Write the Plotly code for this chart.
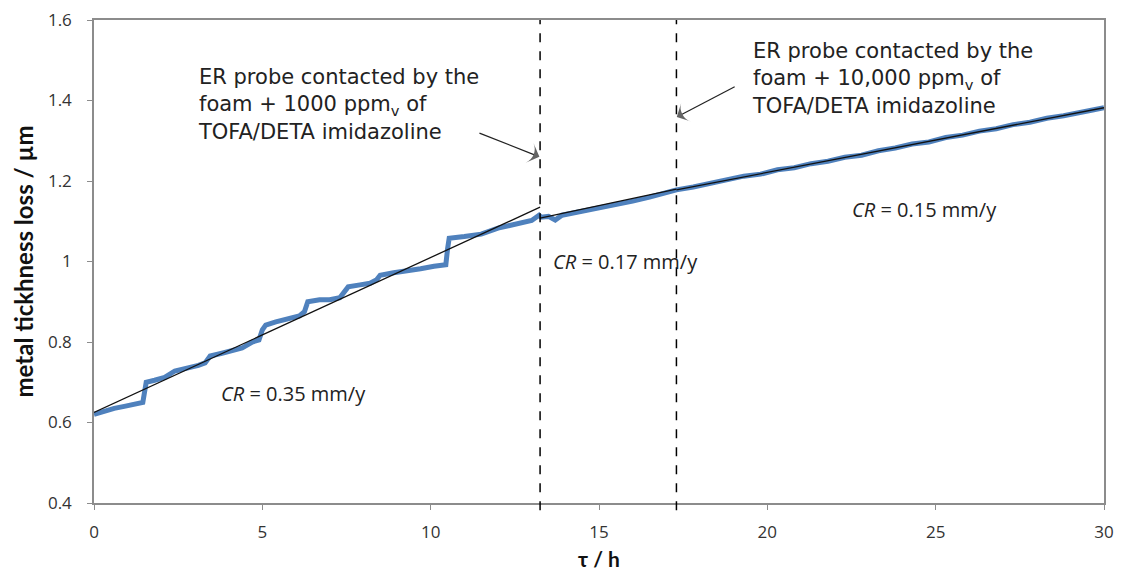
import plotly.graph_objects as go

# Measured metal thickness loss (blue trace)
tau_h = [0, 0.3, 0.6, 0.9, 1.2, 1.45, 1.5, 1.55, 1.8, 2.1, 2.4, 2.8, 3.1, 3.3, 3.45,
         3.8, 4.1, 4.4, 4.7, 4.9, 5.0, 5.1, 5.4, 5.8, 6.1, 6.25, 6.35, 6.7, 7.0, 7.3,
         7.45, 7.55, 7.9, 8.2, 8.4, 8.5, 8.9, 9.3, 9.7, 10.1, 10.45, 10.5, 10.55, 11.0,
         11.5, 12.0, 12.5, 13.0, 13.22, 13.28, 13.5, 13.7, 13.9, 14.2, 14.6, 15.0, 15.5,
         16.0, 16.5, 17.0, 17.3, 17.8, 18.3, 18.8, 19.3, 19.8, 20.3, 20.8, 21.3, 21.8,
         22.3, 22.8, 23.3, 23.8, 24.3, 24.8, 25.3, 25.8, 26.3, 26.8, 27.3, 27.8, 28.3,
         28.8, 29.3, 29.7, 30.0]
loss_um = [0.620, 0.628, 0.635, 0.640, 0.645, 0.650, 0.675, 0.700, 0.705, 0.712, 0.728,
           0.735, 0.742, 0.748, 0.765, 0.772, 0.778, 0.785, 0.800, 0.805, 0.830, 0.842,
           0.850, 0.858, 0.865, 0.875, 0.900, 0.905, 0.905, 0.910, 0.925, 0.937, 0.942,
           0.946, 0.955, 0.966, 0.972, 0.976, 0.982, 0.988, 0.992, 1.030, 1.058, 1.062,
           1.068, 1.083, 1.092, 1.102, 1.115, 1.110, 1.112, 1.103, 1.115, 1.120, 1.126,
           1.133, 1.140, 1.150, 1.160, 1.172, 1.178, 1.185, 1.194, 1.200, 1.212, 1.217,
           1.228, 1.233, 1.243, 1.249, 1.259, 1.264, 1.275, 1.282, 1.292, 1.297, 1.308,
           1.314, 1.324, 1.330, 1.340, 1.346, 1.356, 1.362, 1.372, 1.377, 1.382]

# Linear fits (black lines)
fit1_tau = [0, 13.25]
fit1_loss = [0.625, 1.135]
fit2_tau = [13.25, 17.3]
fit2_loss = [1.108, 1.180]
fit3_tau = [17.3, 30]
fit3_loss = [1.178, 1.382]

# Inhibitor injection times
event_times = [13.25, 17.3]

cr_labels = ["<i>CR</i> = 0.35 mm/y", "<i>CR</i> = 0.17 mm/y", "<i>CR</i> = 0.15 mm/y"]
cr_pos_tau = [5.92, 15.79, 24.68]
cr_pos_loss = [0.671, 0.999, 1.128]

note_texts = ["ER probe contacted by the<br>foam + 1000 ppm<sub>v</sub> of<br>TOFA/DETA imidazoline",
              "ER probe contacted by the<br>foam + 10,000 ppm<sub>v</sub> of<br>TOFA/DETA imidazoline"]
note_tau = [3.03, 19.48]
note_loss = [1.390, 1.455]
arrow_head_tau = [13.23, 17.31]
arrow_head_loss = [1.260, 1.359]
arrow_tail_tau = [11.45, 19.03]
arrow_tail_loss = [1.319, 1.434]

x_ticks = [0, 5, 10, 15, 20, 25, 30]
y_ticks = [0.4, 0.6, 0.8, 1.0, 1.2, 1.4, 1.6]
y_tick_text = ["0.4", "0.6", "0.8", "1", "1.2", "1.4", "1.6"]

fig = go.Figure()
fig.add_trace(go.Scatter(x=tau_h, y=loss_um, mode="lines",
                         line=dict(color="#4F81BD", width=5), showlegend=False))
for fx, fy in [(fit1_tau, fit1_loss), (fit2_tau, fit2_loss), (fit3_tau, fit3_loss)]:
    fig.add_trace(go.Scatter(x=fx, y=fy, mode="lines",
                             line=dict(color="#111111", width=1.3), showlegend=False))

for t in event_times:
    fig.add_shape(type="line", xref="x", yref="paper", x0=t, x1=t, y0=-0.015, y1=1,
                  line=dict(color="black", width=1.5, dash="dash"))

for txt, xx, yy in zip(cr_labels, cr_pos_tau, cr_pos_loss):
    fig.add_annotation(x=xx, y=yy, text=txt, showarrow=False,
                       font=dict(family="Open Sans", size=20, color="#222"))

for txt, xx, yy in zip(note_texts, note_tau, note_loss):
    fig.add_annotation(x=xx, y=yy, text=txt, showarrow=False,
                       xanchor="left", yanchor="middle", align="left",
                       font=dict(family="DejaVu Sans", size=21, color="#222"))

# Pointer arrows drawn as line traces with an arrow marker at the head
for hx, hy, tx, ty in zip(arrow_head_tau, arrow_head_loss, arrow_tail_tau, arrow_tail_loss):
    fig.add_trace(go.Scatter(x=[tx, hx], y=[ty, hy], mode="lines+markers",
                             line=dict(color="#222", width=1.2),
                             marker=dict(symbol="arrow-wide", size=[0, 15], angleref="previous",
                                         color="#222", line=dict(width=0)),
                             showlegend=False, hoverinfo="skip"))

fig.update_layout(
    width=1121, height=573,
    margin=dict(l=94, r=17, t=20, b=70),
    paper_bgcolor="white", plot_bgcolor="white",
    font=dict(family="Open Sans", color="#333"),
)
fig.update_xaxes(range=[0, 30], tickvals=x_ticks, showgrid=False, zeroline=False,
                 showline=True, linecolor="#8c8c8c", linewidth=1.5, mirror=True,
                 ticks="outside", ticklen=5, tickcolor="#8c8c8c", ticklabelstandoff=8,
                 automargin=False,
                 tickfont=dict(family="Open Sans", size=17, color="#333"),
                 title=dict(text="<b>τ / h</b>",
                            font=dict(family="Lato", size=21, color="#111"), standoff=10))
fig.update_yaxes(range=[0.4, 1.6], tickvals=y_ticks, ticktext=y_tick_text, showgrid=False,
                 zeroline=False, showline=True, linecolor="#8c8c8c", linewidth=1.5, mirror=True,
                 ticks="outside", ticklen=5, tickcolor="#8c8c8c", ticklabelstandoff=12,
                 automargin=False,
                 tickfont=dict(family="Open Sans", size=17, color="#333"),
                 title=dict(text="<b>metal tickhness loss / µm</b>",
                            font=dict(family="Lato", size=24, color="#111"), standoff=8))

fig.write_html("out.html")
